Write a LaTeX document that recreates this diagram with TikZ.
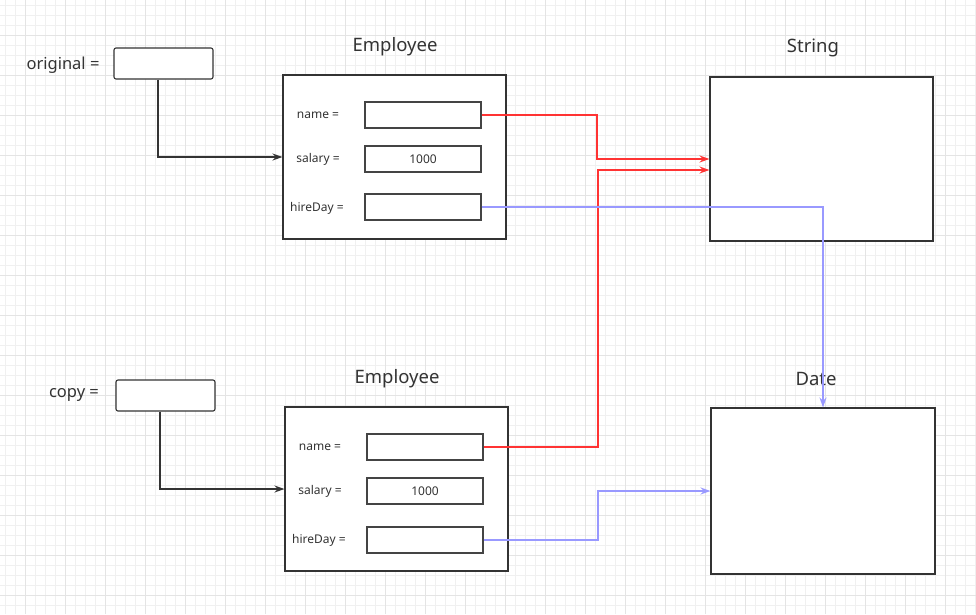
\documentclass[tikz,border=0pt]{standalone}
\usepackage{fontspec}
\setmainfont{Noto Sans}
\usetikzlibrary{arrows.meta}
\definecolor{inkgray}{HTML}{333333}
\definecolor{fieldgray}{HTML}{444444}
\definecolor{refred}{HTML}{FF3333}
\definecolor{refblue}{HTML}{9999FF}
\definecolor{gridminor}{HTML}{F0F0F0}
\definecolor{gridmajor}{HTML}{E4E4E4}

\begin{document}
\begin{tikzpicture}[x=1pt, y=-1pt,
    objbox/.style={draw=inkgray, fill=white, line width=1.1pt, inner sep=0pt,
      minimum width=223pt, minimum height=164pt},
    ptrbox/.style={draw=inkgray, fill=white, line width=1.1pt, rounded corners=2pt,
      inner sep=0pt, minimum width=99pt, minimum height=31pt},
    fieldbox/.style={draw=fieldgray, fill=white, line width=1.3pt, inner sep=0pt,
      minimum width=116pt, minimum height=26pt, text=inkgray,
      font=\fontsize{12}{14}\selectfont},
    fieldlabel/.style={text=inkgray, inner sep=0pt, font=\fontsize{12}{14}\selectfont},
    title/.style={text=inkgray, inner sep=0pt, font=\fontsize{18.5}{22}\selectfont},
    varlabel/.style={text=inkgray, inner sep=0pt, font=\fontsize{16.5}{20}\selectfont},
    arrowtip/.style={-{Stealth[length=10pt, width=7pt]}},
    refline/.style={draw=inkgray, line width=1.4pt, arrowtip},
    redline/.style={draw=refred, line width=1.7pt, arrowtip},
    blueline/.style={draw=refblue, line width=1.7pt, arrowtip}]

  \newcommand\PICW{976}
  \newcommand\PICH{614}

  % background grid
  \useasboundingbox (0,0) rectangle (\PICW,\PICH);
  \fill[white] (0,0) rectangle (\PICW,\PICH);
  \foreach \gx in {5,15,...,975} \draw[gridminor, line width=1pt] (\gx,0) -- (\gx,\PICH);
  \foreach \gy in {5,15,...,605} \draw[gridminor, line width=1pt] (0,\gy) -- (\PICW,\gy);
  \foreach \gx in {25,65,...,945} \draw[gridmajor, line width=1pt] (\gx,0) -- (\gx,\PICH);
  \foreach \gy in {35,75,...,595} \draw[gridmajor, line width=1pt] (0,\gy) -- (\PICW,\gy);

  % original
  \node[varlabel] (origlbl) at (63,65) {original =};
  \node[ptrbox] (origptr) at (163.5,63.5) {};
  \node[title] (empAtitle) at (395,47) {Employee};
  \node[objbox] (empA) at (394.5,157) {};
  \node[fieldlabel] (nameAlbl) at (318,115.5) {name =};
  \node[fieldlabel] (salAlbl) at (318,159.5) {salary =};
  \node[fieldlabel] (hireAlbl) at (317,208) {hireDay =};
  \node[fieldbox] (nameA) at (423,115) {};
  \node[fieldbox] (salA) at (423,159) {1000};
  \node[fieldbox] (hireA) at (423,207) {};

  % copy
  \node[varlabel] (copylbl) at (74,395) {copy =};
  \node[ptrbox] (copyptr) at (165.5,395.5) {};
  \node[title] (empBtitle) at (397,379) {Employee};
  \node[objbox] (empB) at (396.5,489) {};
  \node[fieldlabel] (nameBlbl) at (320,447.5) {name =};
  \node[fieldlabel] (salBlbl) at (320,491.5) {salary =};
  \node[fieldlabel] (hireBlbl) at (319,540) {hireDay =};
  \node[fieldbox] (nameB) at (425,447) {};
  \node[fieldbox] (salB) at (425,491) {1000};
  \node[fieldbox] (hireB) at (425,540) {};

  % String and Date
  \node[title] (strtitle) at (813,48) {String};
  \node[objbox] (strobj) at (821.5,159) {};
  \node[title] (datetitle) at (816,379) {Date};
  \node[objbox, minimum width=224pt, minimum height=166pt] (dateobj) at (823,491) {};

  % references
  \draw[refline] ([xshift=-5.5pt]origptr.south) |- (empA.west);
  \draw[refline] ([xshift=-5.5pt]copyptr.south) |- (empB.west);
  \draw[redline] (nameA.east) -- ++(115,0) |- (strobj.west);
  \draw[redline] (nameB.east) -- ++(114,0) |- ([yshift=-11pt]strobj.west);
  \draw[blueline] (hireA.east) -| (dateobj.north);
  \draw[blueline] (hireB.east) -- ++(114,0) |- (dateobj.west);
\end{tikzpicture}
\end{document}
